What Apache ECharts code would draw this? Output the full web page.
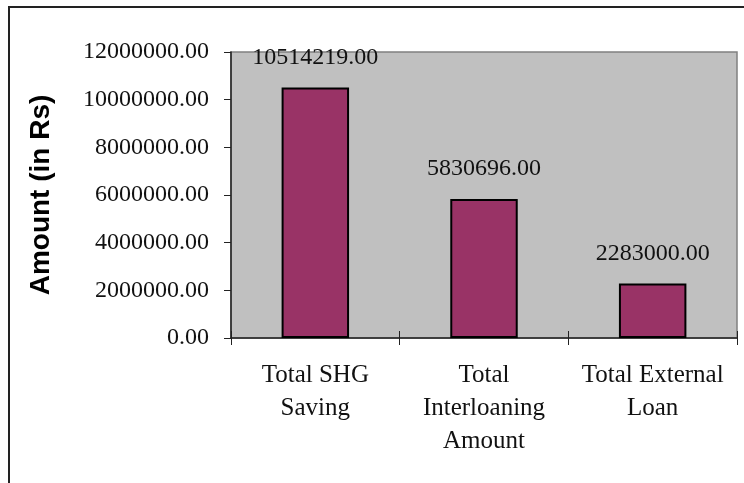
<!DOCTYPE html>
<html>
<head>
<meta charset="utf-8">
<script src="https://cdn.jsdelivr.net/npm/echarts@6/dist/echarts.min.js"></script>
<style>
  html, body { margin: 0; padding: 0; background: #fff; }
  #chart { width: 744px; height: 483px; }
</style>
</head>
<body>
<div id="chart"></div>
<script>
const categories = ['Total SHG\nSaving', 'Total\nInterloaning\nAmount', 'Total External\nLoan'];
const amounts = [10514219.00, 5830696.00, 2283000.00];
const yMin = 0;
const yMax = 12000000;
const yStep = 2000000;

const serif = '"Liberation Serif", "DejaVu Serif", serif';

const chart = echarts.init(document.getElementById('chart'));

chart.setOption({
  animation: false,
  backgroundColor: '#fff',
  graphic: [
    {
      type: 'rect',
      shape: { x: 9, y: 7, width: 800, height: 600 },
      style: { fill: 'none', stroke: '#222', lineWidth: 2 },
      z: 100
    }
  ],
  grid: {
    left: 231,
    top: 52,
    right: 7,
    bottom: 145,
    show: true,
    backgroundColor: '#C0C0C0',
    borderColor: '#808080',
    borderWidth: 1.5
  },
  xAxis: [
    {
      type: 'category',
      data: categories,
      axisLine: { lineStyle: { color: '#222', width: 1.5 } },
      axisTick: { show: true, length: 7, lineStyle: { color: '#222' } },
      axisLabel: {
        interval: 0,
        hideOverlap: false,
        fontFamily: serif,
        fontSize: 25,
        color: '#111',
        lineHeight: 33,
        margin: 21
      }
    },
    {
      type: 'category',
      position: 'bottom',
      offset: 0,
      data: categories,
      axisLine: { show: false },
      axisTick: { show: true, inside: true, length: 7, lineStyle: { color: '#222' } },
      axisLabel: { show: false }
    }
  ],
  yAxis: {
    type: 'value',
    min: yMin,
    max: yMax,
    interval: yStep,
    name: 'Amount (in Rs)',
    nameLocation: 'middle',
    nameGap: 176,
    nameTextStyle: {
      fontFamily: '"Liberation Sans", Arial, sans-serif',
      fontWeight: 'bold',
      fontSize: 28,
      color: '#000'
    },
    axisLine: { show: true, lineStyle: { color: '#222', width: 1.5 } },
    axisTick: { show: true, length: 7, lineStyle: { color: '#222' } },
    splitLine: { show: false },
    axisLabel: {
      fontFamily: serif,
      fontSize: 24,
      color: '#111',
      margin: 22,
      formatter: v => v.toFixed(2)
    }
  },
  series: [
    {
      type: 'bar',
      data: amounts,
      barWidth: '40%',
      itemStyle: { color: '#993366', borderColor: '#000', borderWidth: 2 },
      label: {
        show: true,
        position: 'top',
        distance: 18,
        fontFamily: serif,
        fontSize: 24,
        color: '#111',
        formatter: p => p.value.toFixed(2)
      }
    }
  ]
});
</script>
</body>
</html>
